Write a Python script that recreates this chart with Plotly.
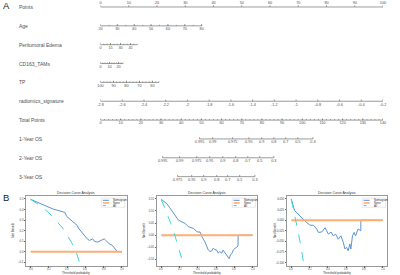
import numpy as np
import plotly.graph_objects as go

# ---------------- Panel A: nomogram data ----------------
row_names = ["Points", "Age", "Peritumoral Edema", "CD163_TAMs", "TP",
             "radiomics_signature", "Total Points", "1-Year OS", "2-Year OS", "3-Year OS"]

points_ticks = [0, 10, 20, 30, 40, 50, 60, 70, 80, 90, 100]

age_ticks = [20, 30, 40, 50, 60, 70, 80]
age_scale = [20, 80]
age_points = [0, 35.8]

edema_ticks = [0, 15, 30, 45]
edema_scale = [0, 55]
edema_points = [0, 13.0]

cd163_ticks = [0, 10, 20]
cd163_scale = [0, 25]
cd163_points = [0, 8.0]

tp_ticks = [100, 90, 80, 70, 60]
tp_scale = [100, 55]
tp_points = [0, 20.7]

radiomics_ticks = [-2.8, -2.6, -2.4, -2.2, -2, -1.8, -1.6, -1.4, -1.2, -1, -0.8, -0.6, -0.4, -0.2]
radiomics_labels = ["-2.8", "-2.6", "-2.4", "-2.2", "-2", "-1.8", "-1.6", "-1.4", "-1.2", "-1",
                    "-0.8", "-0.6", "-0.4", "-0.2"]
radiomics_scale = [-2.8, -0.2]
radiomics_points = [0, 100]

total_ticks = [0, 10, 20, 30, 40, 50, 60, 70, 80, 90, 100, 110, 120, 130, 140]
total_scale = [0, 140]
total_points = [0, 100]

os1_labels = ["0.995", "0.99", "0.975", "0.95", "0.9", "0.8", "0.7", "0.5", "0.3"]
os1_total = [49.1, 55.6, 65.5, 73.5, 79.9, 85.9, 91.8, 97.8, 105.3]
os2_labels = ["0.995", "0.99", "0.975", "0.95", "0.9", "0.8", "0.7", "0.5", "0.3"]
os2_total = [30.8, 39.2, 47.7, 54.1, 60.6, 67.0, 73.0, 78.9, 85.9]
os3_labels = ["0.975", "0.95", "0.9", "0.8", "0.7", "0.5", "0.3"]
os3_total = [38.2, 45.2, 51.1, 57.6, 63.0, 69.0, 76.5]

# ---------------- Panel B: decision curve data ----------------
series_names = ["Nomogram", "None", "All"]

thr1 = [0.0, 0.05, 0.10, 0.143, 0.20, 0.25, 0.30, 0.34, 0.376, 0.395, 0.43, 0.448, 0.48, 0.51,
        0.522, 0.548, 0.585, 0.62, 0.645, 0.68, 0.70, 0.735, 0.77, 0.806, 0.824, 0.86, 0.896,
        0.932, 0.95, 1.0]
nom1 = [0.497, 0.478, 0.46, 0.443, 0.42, 0.403, 0.392, 0.381, 0.372, 0.335, 0.311, 0.29, 0.275,
        0.25, 0.226, 0.198, 0.152, 0.122, 0.107, 0.122, 0.097, 0.092, 0.107, 0.122, 0.107, 0.076,
        0.06, 0.015, 0.0, 0.0]
all_thr1 = [0.0, 0.1, 0.2, 0.3, 0.35, 0.4, 0.45, 0.5, 0.535]
all1 = [0.497, 0.44, 0.37, 0.28, 0.226, 0.16, 0.085, -0.005, -0.1]

thr2 = [0.0, 0.03, 0.062, 0.09, 0.116, 0.152, 0.188, 0.225, 0.26, 0.297, 0.33, 0.351, 0.388,
        0.413, 0.424, 0.442, 0.478, 0.497, 0.514, 0.533, 0.551, 0.569, 0.587, 0.605, 0.623,
        0.641, 0.66, 0.677, 0.696, 0.714, 0.743, 0.758, 0.775, 0.79, 0.804, 0.823, 0.84, 0.841, 1.0]
nom2 = [0.148, 0.14, 0.13, 0.115, 0.102, 0.082, 0.062, 0.055, 0.049, 0.035, 0.032, 0.028, 0.015,
        0.012, 0.014, -0.004, -0.028, -0.045, -0.061, -0.067, -0.066, -0.054, -0.06, -0.061,
        -0.074, -0.068, -0.074, -0.062, -0.072, -0.081, -0.097, -0.082, -0.074, -0.06, -0.055,
        -0.047, -0.045, 0.0, 0.0]
all_thr2 = [0.0, 0.05, 0.1, 0.15, 0.2, 0.222]
all2 = [0.148, 0.103, 0.053, -0.002, -0.065, -0.095]

thr3 = [0.0, 0.025, 0.036, 0.062, 0.098, 0.134, 0.17, 0.207, 0.243, 0.279, 0.297, 0.333, 0.37,
        0.388, 0.406, 0.435, 0.46, 0.486, 0.514, 0.543, 0.569, 0.587, 0.605, 0.623, 0.641, 0.652,
        0.67, 0.688, 0.703, 0.732, 0.75, 0.761, 0.762, 1.0]
nom3 = [0.0495, 0.032, 0.023, 0.017, 0.009, 0.002, -0.006, -0.012, -0.012, -0.021, -0.029,
        -0.028, -0.018, -0.025, -0.033, -0.028, -0.037, -0.033, -0.045, -0.037, -0.052, -0.068,
        -0.064, -0.072, -0.056, -0.068, -0.037, -0.029, -0.037, -0.021, -0.025, -0.025, 0.0, 0.0]
all_thr3 = [0.0, 0.04, 0.08, 0.11, 0.132]
all3 = [0.0495, 0.01, -0.033, -0.068, -0.097]

none_thr = [0.0, 1.0]
none_nb = [0.0, 0.0]

x_ticks = [0.0, 0.2, 0.4, 0.6, 0.8, 1.0]
x_ticktext = ["0.0", "0.2", "0.4", "0.6", "0.8", "1.0"]
y1_ticks = [-0.1, 0.0, 0.1, 0.2, 0.3, 0.4, 0.5]
y1_text = ["\u22120.1", "0.0", "0.1", "0.2", "0.3", "0.4", "0.5"]
y2_ticks = [-0.10, -0.05, 0.0, 0.05, 0.10, 0.15]
y2_text = ["\u22120.10", "\u22120.05", "0.00", "0.05", "0.10", "0.15"]
y3_ticks = [-0.1, -0.075, -0.05, -0.025, 0.0, 0.025, 0.05]
y3_text = ["\u22120.100", "\u22120.075", "\u22120.050", "\u22120.025", "0.000", "0.025", "0.050"]

# ---------------- style ----------------
FONT = "Liberation Sans, Arial, sans-serif"
TXT = "#505050"
AXC = "#707070"
W, H = 400, 275
ROW_PX = 18.85
TOP_PX = 7.0
PAD_ROWS = 0.32

C_NOM = "#5b93d3"
C_NONE = "#ffad73"
C_ALL = "#3fd5d9"

fig = go.Figure()


def to_pts(v, scale, pts):
    return pts[0] + (v - scale[0]) / (scale[1] - scale[0]) * (pts[1] - pts[0])


def px2row(px):
    return px / ROW_PX


def draw_row(i, major, labels, minor=None, above=False):
    allv = list(major) + list(minor or [])
    xs = [min(allv), max(allv)]
    ys = [i, i]
    for m in major:
        xs += [None, m, m]
        ys += [None, i, i - px2row(1.7)]
    for m in (minor or []):
        xs += [None, m, m]
        ys += [None, i, i - px2row(1.0)]
    fig.add_trace(go.Scatter(x=xs, y=ys, mode="lines", xaxis="x", yaxis="y",
                             line=dict(color=AXC, width=0.7), hoverinfo="skip", showlegend=False))
    off = -px2row(3.9) if above else px2row(3.4)
    fig.add_trace(go.Scatter(x=major, y=[i + off] * len(major), mode="text", text=labels,
                             xaxis="x", yaxis="y", cliponaxis=False,
                             textfont=dict(size=3.8, color=TXT, family=FONT),
                             hoverinfo="skip", showlegend=False))


draw_row(0, points_ticks, [str(v) for v in points_ticks], above=True)
draw_row(1, [to_pts(v, age_scale, age_points) for v in age_ticks], [str(v) for v in age_ticks],
         [to_pts(v, age_scale, age_points) for v in np.arange(20, 80.1, 5)])
draw_row(2, [to_pts(v, edema_scale, edema_points) for v in edema_ticks], [str(v) for v in edema_ticks],
         [to_pts(v, edema_scale, edema_points) for v in np.arange(0, 55.1, 5)])
draw_row(3, [to_pts(v, cd163_scale, cd163_points) for v in cd163_ticks], [str(v) for v in cd163_ticks],
         [to_pts(v, cd163_scale, cd163_points) for v in np.arange(0, 25.1, 2.5)])
draw_row(4, [to_pts(v, tp_scale, tp_points) for v in tp_ticks], [str(v) for v in tp_ticks],
         [to_pts(v, tp_scale, tp_points) for v in np.arange(100, 54.9, -2.5)])
draw_row(5, [to_pts(v, radiomics_scale, radiomics_points) for v in radiomics_ticks], radiomics_labels)
draw_row(6, [to_pts(v, total_scale, total_points) for v in total_ticks], [str(v) for v in total_ticks],
         [to_pts(v, total_scale, total_points) for v in np.arange(0, 140.1, 2)])
draw_row(7, [to_pts(v, total_scale, total_points) for v in os1_total], os1_labels)
draw_row(8, [to_pts(v, total_scale, total_points) for v in os2_total], os2_labels)
draw_row(9, [to_pts(v, total_scale, total_points) for v in os3_total], os3_labels)

annotations = []
for i, name in enumerate(row_names):
    annotations.append(dict(x=17 / W, xref="paper", y=i, yref="y", text=name, showarrow=False,
                            xanchor="left", yanchor="middle",
                            font=dict(size=5, color=TXT, family=FONT)))

annotations.append(dict(x=1 / W, xref="paper", y=1 - 5 / H, yref="paper", text="A", showarrow=False,
                        xanchor="left", yanchor="middle", font=dict(size=9.5, color="#222", family=FONT)))
annotations.append(dict(x=1 / W, xref="paper", y=1 - 197 / H, yref="paper", text="B", showarrow=False,
                        xanchor="left", yanchor="middle", font=dict(size=9.5, color="#222", family=FONT)))

# ---------------- Panel B ----------------
panels = [
    (thr1, nom1, all_thr1, all1, y1_ticks, y1_text, [-0.13, 0.528], 26.0, 13.0),
    (thr2, nom2, all_thr2, all2, y2_ticks, y2_text, [-0.1255, 0.162], 156.7, 143.3),
    (thr3, nom3, all_thr3, all3, y3_ticks, y3_text, [-0.107, 0.057], 286.7, 274.3),
]
BOX_W = 100.5
BOX_TOP, BOX_BOT = 196.0, 265.5
box_h = BOX_BOT - BOX_TOP
shapes = []
layout_axes = {}
for k, (thr, nom, athr, anb, yt, ytt, yr, left, ytitle_x) in enumerate(panels):
    n = k + 2
    xa, ya = f"x{n}", f"y{n}"
    fig.add_trace(go.Scatter(x=thr, y=nom, mode="lines", xaxis=xa, yaxis=ya, name=series_names[0],
                             line=dict(color=C_NOM, width=1.0), hoverinfo="skip", showlegend=False))
    fig.add_trace(go.Scatter(x=none_thr, y=none_nb, mode="lines", xaxis=xa, yaxis=ya, name=series_names[1],
                             line=dict(color=C_NONE, width=2.0), hoverinfo="skip", showlegend=False))
    fig.add_trace(go.Scatter(x=athr, y=anb, mode="lines", xaxis=xa, yaxis=ya, name=series_names[2],
                             line=dict(color=C_ALL, width=1.0, dash="dash"), hoverinfo="skip",
                             showlegend=False))
    layout_axes[f"xaxis{n}"] = dict(
        domain=[left / W, (left + BOX_W) / W], range=[-0.05, 1.05], anchor=ya,
        tickvals=x_ticks, ticks="outside", ticklen=1.2, tickwidth=0.5, showticklabels=False,
        tickcolor="#666", showline=True, linecolor="#999", linewidth=0.6, mirror=True,
        showgrid=False, zeroline=False)
    layout_axes[f"yaxis{n}"] = dict(
        domain=[1 - BOX_BOT / H, 1 - BOX_TOP / H], range=yr, anchor=xa,
        tickvals=yt, ticktext=ytt, ticks="outside", ticklen=1.2, tickwidth=0.5,
        tickcolor="#666", showline=True, linecolor="#999", linewidth=0.6, mirror=True,
        showgrid=False, zeroline=False, tickfont=dict(size=2.8, color="#444", family=FONT))
    dx, dy = f"{xa} domain", f"{ya} domain"
    for tv, tt in zip(x_ticks, x_ticktext):
        annotations.append(dict(x=tv, xref=xa, y=-0.6 / box_h, yref=dy, text=tt, showarrow=False,
                                xanchor="center", yanchor="top", borderpad=0,
                                font=dict(size=2.6, color="#444", family=FONT)))
    annotations.append(dict(x=0.5, xref=dx, y=1 + 3.0 / box_h, yref=dy, text="Decision Curve Analysis",
                            showarrow=False, xanchor="center", yanchor="middle",
                            font=dict(size=3.5, color="#333", family=FONT)))
    annotations.append(dict(x=0.5, xref=dx, y=-7.3 / box_h, yref=dy, text="Threshold probability",
                            showarrow=False, xanchor="center", yanchor="middle", borderpad=0,
                            font=dict(size=3.0, color="#333", family=FONT)))
    annotations.append(dict(x=(ytitle_x - left) / BOX_W, xref=dx, y=0.5, yref=dy, text="Net Benefit",
                            showarrow=False, textangle=-90, xanchor="center", yanchor="middle",
                            font=dict(size=3.0, color="#333", family=FONT)))
    shapes.append(dict(type="rect", xref=dx, yref=dy, x0=0.752, x1=0.982, y0=0.838, y1=0.97,
                       line=dict(color="#d0d0d0", width=0.5), fillcolor="white", layer="above"))
    leg_y = [0.938, 0.900, 0.862]
    leg_style = [(C_NOM, 1.0, "solid"), (C_NONE, 1.6, "solid"), (C_ALL, 1.0, "dot")]
    for (col, wd, dsh), yy, nm in zip(leg_style, leg_y, series_names):
        shapes.append(dict(type="line", xref=dx, yref=dy, x0=0.765, x1=0.825, y0=yy, y1=yy,
                           line=dict(color=col, width=wd, dash=dsh), layer="above"))
        annotations.append(dict(x=0.845, xref=dx, y=yy, yref=dy, text=nm, showarrow=False,
                                xanchor="left", yanchor="middle",
                                font=dict(size=2.8, color="#333", family=FONT)))

top_px = TOP_PX - PAD_ROWS * ROW_PX
bot_px = TOP_PX + (9 + PAD_ROWS) * ROW_PX
fig.update_layout(
    width=W, height=H, margin=dict(l=0, r=0, t=0, b=0),
    paper_bgcolor="white", plot_bgcolor="white", showlegend=False, hovermode=False,
    font=dict(family=FONT),
    xaxis=dict(domain=[100.5 / W, 383 / W], range=[0, 100], visible=False, fixedrange=True),
    yaxis=dict(domain=[1 - bot_px / H, 1 - top_px / H], range=[9 + PAD_ROWS, -PAD_ROWS],
               visible=False, fixedrange=True),
    annotations=annotations, shapes=shapes,
    **layout_axes,
)

fig.write_html("out.html", config={"displayModeBar": False},
               post_script="document.body.style.margin='0';document.body.style.padding='0';"
                           "document.body.style.overflow='hidden';")
